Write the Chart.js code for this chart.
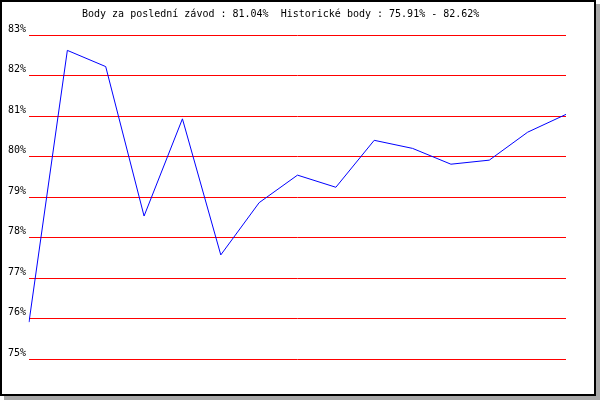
<!DOCTYPE html>
<html>
<head>
<meta charset="utf-8">
<script src="https://cdn.jsdelivr.net/npm/chart.js@4"></script>
<style>
    body { margin: 0; background: #fff; }
    #frame {
        position: absolute; left: 0; top: 0;
        width: 592px; height: 392px;
        border: 2px solid #000;
        box-shadow: 4px 4px 0 #a8a8a8;
        background: #fff;
    }
    #chart { position: absolute; left: 0; top: 0; }
</style>
</head>
<body>
<div id="frame"></div>
<canvas id="chart" width="600" height="400"></canvas>
<script>
// data ------------------------------------------------------
var races = ["1", "2", "3", "4", "5", "6", "7", "8", "9", "10", "11", "12", "13", "14", "15"];
var points = [75.91, 82.62, 82.22, 78.53, 80.93, 77.57, 78.86, 79.54, 79.24, 80.40, 80.20, 79.81, 79.91, 80.60, 81.04];
var yTicks = [75, 76, 77, 78, 79, 80, 81, 82, 83];
var titleText = "Body za poslední závod : 81.04%  Historické body : 75.91% - 82.62%";

var monoFont = "'DejaVu Sans Mono', monospace";

// title drawn at fixed spot above the plot
var titlePlugin = {
    id: 'topTitle',
    afterDraw: function(chart) {
        var ctx = chart.ctx;
        ctx.save();
        ctx.font = "10px " + monoFont;
        ctx.fillStyle = "#000";
        ctx.textAlign = "left";
        ctx.textBaseline = "alphabetic";
        ctx.fillText(titleText, 82, 17);
        ctx.restore();
    }
};

var chart = new Chart(document.getElementById('chart'), {
    type: 'line',
    data: {
        labels: races,
        datasets: [{
            data: points,
            borderColor: "#0000ff",
            borderWidth: 1,
            pointRadius: 0,
            tension: 0,
            fill: false
        }]
    },
    options: {
        responsive: false,
        animation: false,
        devicePixelRatio: 1,
        layout: { padding: { top: 35, right: 34, bottom: 41, left: 0 } },
        plugins: {
            legend: { display: false },
            title: { display: false },
            tooltip: { enabled: false }
        },
        scales: {
            x: { display: false },
            y: {
                min: yTicks[0],
                max: yTicks[yTicks.length - 1],
                afterBuildTicks: function(scale) {
                    scale.ticks = yTicks.map(function(v) { return { value: v }; });
                },
                afterFit: function(scale) { scale.width = 29; },
                border: { display: false },
                grid: { color: "#ff0000", lineWidth: 1, drawTicks: false },
                ticks: {
                    padding: 3,
                    labelOffset: -6,
                    color: "#000",
                    font: { family: monoFont, size: 10 },
                    callback: function(v) { return v + "%"; }
                }
            }
        }
    },
    plugins: [titlePlugin]
});
</script>
</body>
</html>
